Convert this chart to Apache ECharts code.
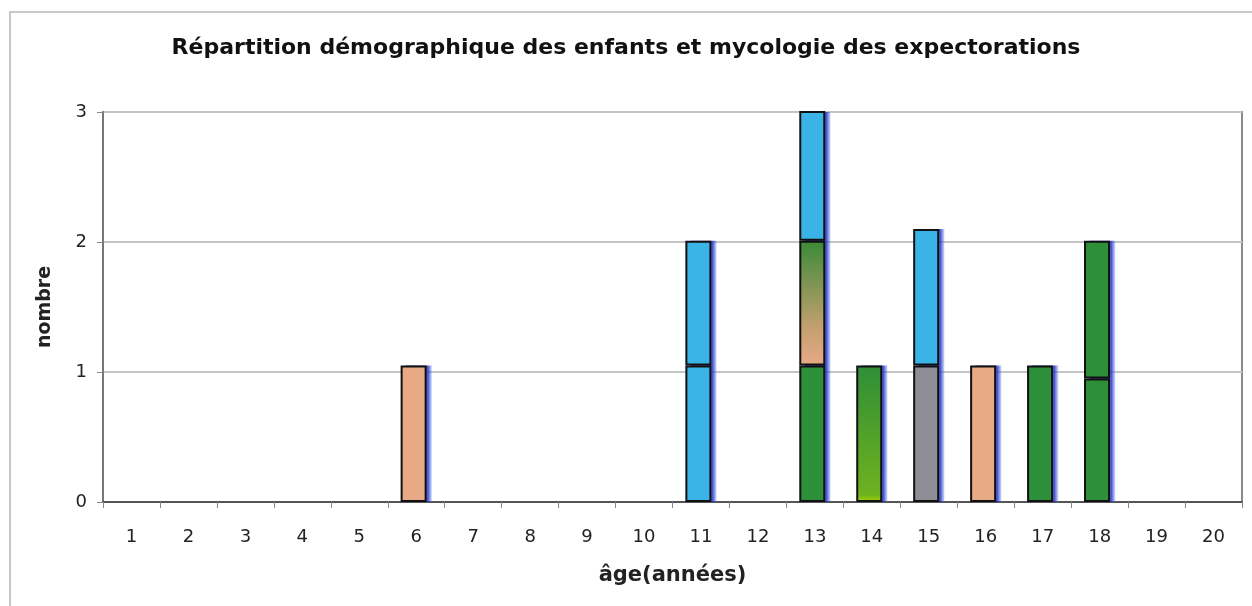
<!DOCTYPE html>
<html>
<head>
<meta charset="utf-8">
<script src="https://cdn.jsdelivr.net/npm/echarts@6/dist/echarts.min.js"></script>
<style>
html,body{margin:0;padding:0;background:#fff;}
#chart{width:1252px;height:606px;}
</style>
</head>
<body>
<div id="chart"></div>
<script>
var title = 'Répartition démographique des enfants et mycologie des expectorations';
var categories = ['1','2','3','4','5','6','7','8','9','10','11','12','13','14','15','16','17','18','19','20'];
var yTicks = [0, 1, 2, 3];
//                  1    2    3    4    5    6     7    8    9    10   11    12   13    14    15    16    17    18    19   20
var greenA      = [null,null,null,null,null,null, null,null,null,null,null, null,1.05, null, null, null, 1.05, 0.95, null,null];
var grayA       = [null,null,null,null,null,null, null,null,null,null,null, null,null, null, 1.05, null, null, null, null,null];
var salmonA     = [null,null,null,null,null,1.05, null,null,null,null,null, null,null, null, null, 1.05, null, null, null,null];
var yellowGreen = [null,null,null,null,null,null, null,null,null,null,null, null,null, 1.05, null, null, null, null, null,null];
var blueLow     = [null,null,null,null,null,null, null,null,null,null,1.05, null,null, null, null, null, null, null, null,null];
var greenSalmon = [null,null,null,null,null,null, null,null,null,null,null, null,0.96, null, null, null, null, null, null,null];
var greenB      = [null,null,null,null,null,null, null,null,null,null,null, null,null, null, null, null, null, 1.06, null,null];
var blueTop     = [null,null,null,null,null,null, null,null,null,null,0.96, null,1.06, null, 1.05, null, null, null, null,null];

var layers = [greenA, grayA, salmonA, yellowGreen, blueLow, greenSalmon, greenB, blueTop];
var totals = categories.map(function(_, i){
  var s = 0, any = false;
  layers.forEach(function(a){ if (a[i] != null) { s += a[i]; any = true; } });
  return any ? s : null;
});

var chart = echarts.init(document.getElementById('chart'), null, {renderer:'canvas'});
function grad(top, mid, bottom, stop){
  return new echarts.graphic.LinearGradient(0,0,0,1,[
    {offset:0,color:top},{offset:stop,color:mid},{offset:1,color:bottom}]);
}
function mk(name, data, color){
  return {name:name, type:'bar', stack:'s', data:data, barWidth:26, barGap:'-80%', z:3,
    itemStyle:{color:color, borderColor:'#111', borderWidth:2}};
}
var series = [
  mk('greenA', greenA, '#2d8f3a'),
  mk('grayA', grayA, '#8e8e96'),
  mk('salmonA', salmonA, '#e8a985'),
  mk('yellowGreen', yellowGreen, grad('#2f8e37','#6fb21f','#a8d400',0.95)),
  mk('blueLow', blueLow, '#3ab4e6'),
  mk('greenSalmon', greenSalmon, grad('#3a8a36','#c4a070','#e8a985',0.7)),
  mk('greenB', greenB, '#2d8f3a'),
  mk('blueTop', blueTop, '#3ab4e6'),
  {name:'ombre', type:'bar', stack:'shadow', data:totals, barWidth:26, barGap:'-80%', z:2,
    silent:true,
    itemStyle:{color:new echarts.graphic.LinearGradient(0,0,1,0,[
      {offset:0,color:'rgba(30,50,200,0.85)'},{offset:0.86,color:'rgba(30,50,200,0.8)'},
      {offset:1,color:'rgba(90,120,230,0.3)'}])}}
];
chart.setOption({
  animation:false,
  backgroundColor:'#fff',
  title:{text:title, left:'center', top:32,
    textStyle:{fontFamily:'DejaVu Sans', fontWeight:'bold', fontSize:22, color:'#111'}},
  graphic:[{type:'rect', shape:{x:10,y:12,width:1260,height:610},
    style:{fill:'none', stroke:'#c8c8c8', lineWidth:2}, silent:true, z:-1}],
  grid:{left:103, right:10, top:112, bottom:104, show:true, borderColor:'#8a8a8a', borderWidth:2},
  xAxis:{type:'category', data:categories,
    axisLine:{lineStyle:{color:'#555', width:2}},
    axisTick:{show:true, length:6, lineStyle:{color:'#888'}},
    axisLabel:{margin:26, fontFamily:'DejaVu Sans', fontSize:18, color:'#222'},
    name:'âge(années)', nameLocation:'middle', nameGap:63,
    nameTextStyle:{fontFamily:'DejaVu Sans', fontWeight:'bold', fontSize:21, color:'#222'}},
  yAxis:{type:'value', min:yTicks[0], max:yTicks[yTicks.length-1], interval:1,
    axisLine:{show:true, lineStyle:{color:'#777', width:2}},
    axisTick:{show:true, length:6, lineStyle:{color:'#888'}},
    splitLine:{lineStyle:{color:'#c4c4c4', width:2}},
    axisLabel:{margin:16, fontFamily:'DejaVu Sans', fontSize:18, color:'#222'},
    name:'nombre', nameLocation:'middle', nameGap:48,
    nameTextStyle:{fontFamily:'DejaVu Sans', fontWeight:'bold', fontSize:19, color:'#222'}},
  series:series
});
</script>
</body>
</html>
